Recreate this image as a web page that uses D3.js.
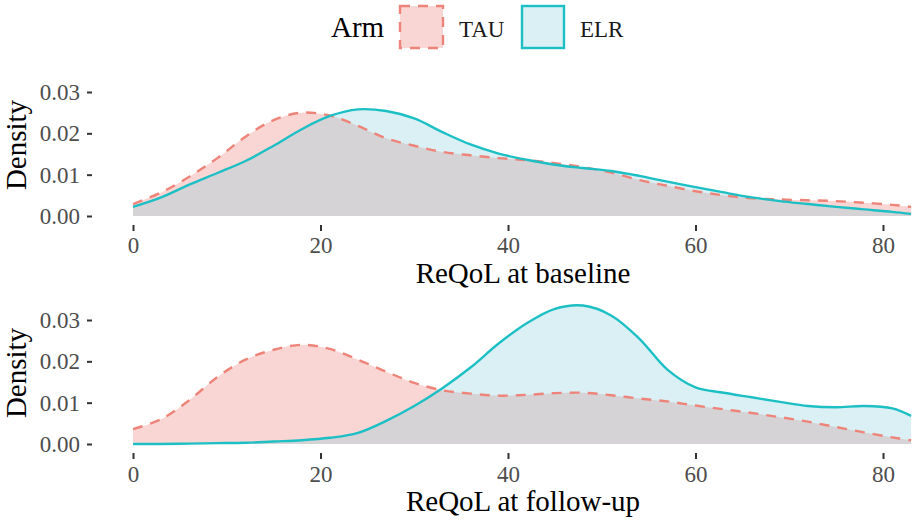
<!DOCTYPE html>
<html>
<head>
<meta charset="utf-8">
<script src="https://cdn.jsdelivr.net/npm/d3@7"></script>
<style>
  body { margin: 0; background: #fff; }
  text { font-family: "Liberation Serif", "Times New Roman", serif; }
</style>
</head>
<body>
<div id="chart"></div>
<script>
var reqolGrid = [0, 3, 6, 9, 12, 15, 18, 21, 24, 27, 30, 33, 36, 39, 42, 45, 48, 51, 54, 57, 60, 63, 66, 69, 72, 75, 78, 81, 83];

var tauBaseline = [0.0029, 0.0057, 0.0095, 0.0140, 0.0192, 0.0232, 0.0250, 0.0243, 0.0218, 0.0188, 0.0170, 0.0155, 0.0147, 0.0140, 0.0135, 0.0128, 0.0118, 0.0105, 0.0087, 0.0073, 0.0060, 0.0050, 0.0043, 0.0040, 0.0038, 0.0036, 0.0032, 0.0027, 0.0022];
var elrBaseline = [0.0022, 0.0045, 0.0076, 0.0104, 0.0133, 0.0170, 0.0210, 0.0242, 0.0258, 0.0254, 0.0236, 0.0203, 0.0173, 0.0151, 0.0136, 0.0124, 0.0116, 0.0109, 0.0097, 0.0083, 0.0070, 0.0057, 0.0045, 0.0036, 0.0029, 0.0022, 0.0016, 0.0010, 0.0005];

var tauFollowUp = [0.0036, 0.0060, 0.0106, 0.0162, 0.0204, 0.0228, 0.0240, 0.0230, 0.0204, 0.0175, 0.0148, 0.0130, 0.0122, 0.0117, 0.0119, 0.0123, 0.0124, 0.0118, 0.0110, 0.0103, 0.0093, 0.0084, 0.0075, 0.0065, 0.0054, 0.0041, 0.0028, 0.0016, 0.0009];
var elrFollowUp = [0.0000, 0.0000, 0.0001, 0.0002, 0.0003, 0.0006, 0.0009, 0.0015, 0.0027, 0.0056, 0.0092, 0.0135, 0.0185, 0.0243, 0.0292, 0.0327, 0.0335, 0.0311, 0.0255, 0.0180, 0.0137, 0.0124, 0.0113, 0.0102, 0.0092, 0.0089, 0.0092, 0.0086, 0.0068];

var xTicks = [0, 20, 40, 60, 80];
var yTicks = [0, 0.01, 0.02, 0.03];
var armNames = ["TAU", "ELR"];

var width = 915, height = 523;

var svg = d3.select("#chart")
    .append("svg")
    .attr("width", width)
    .attr("height", height)
    .style("background-color", "#fff");

var x = d3.scaleLinear().domain([0, 83.2]).range([133, 913]);

var panels = [
    { id: "base", tau: tauBaseline, elr: elrBaseline, zero: 216, title: "ReQoL at baseline", titleY: 283, tickY: 20 },
    { id: "follow", tau: tauFollowUp, elr: elrFollowUp, zero: 444, title: "ReQoL at follow-up", titleY: 511, tickY: 21 }
];

panels.forEach(function (p) {
    var y = d3.scaleLinear().domain([0, 0.03]).range([p.zero, p.zero - 124]);

    var tauData = reqolGrid.map(function (v, i) { return { x: v, y: p.tau[i] }; });
    var elrData = reqolGrid.map(function (v, i) { return { x: v, y: p.elr[i] }; });

    var area = d3.area()
        .x(function (d) { return x(d.x); })
        .y0(y(0))
        .y1(function (d) { return Math.min(y(0), y(d.y)); })
        .curve(d3.curveCatmullRom.alpha(0.5));
    var line = d3.line()
        .x(function (d) { return x(d.x); })
        .y(function (d) { return y(d.y); })
        .curve(d3.curveCatmullRom.alpha(0.5));

    // clip for the overlap of both areas
    svg.append("clipPath")
        .attr("id", "clip-" + p.id)
        .append("path")
        .attr("d", area(elrData));

    svg.append("path").attr("d", area(tauData)).attr("fill", "#f9d5d3");
    svg.append("path").attr("d", area(elrData)).attr("fill", "#daf0f5");
    svg.append("path").attr("d", area(tauData)).attr("fill", "#d6d3d6")
        .attr("clip-path", "url(#clip-" + p.id + ")");

    svg.append("path")
        .attr("d", line(tauData))
        .attr("fill", "none")
        .attr("stroke", "#ee8479")
        .attr("stroke-width", 2.4)
        .attr("stroke-dasharray", "10,8");

    svg.append("path")
        .attr("d", line(elrData))
        .attr("fill", "none")
        .attr("stroke", "#1cbfc4")
        .attr("stroke-width", 2.4);

    // Y axis
    var gy = svg.append("g")
        .attr("transform", "translate(92,0)")
        .call(d3.axisLeft(y).tickValues(yTicks).tickFormat(d3.format(".2f")).tickSize(5).tickPadding(7));
    gy.select(".domain").remove();
    gy.selectAll("line").attr("stroke", "#333").attr("stroke-width", 2);
    gy.selectAll("text")
        .style("font-family", "Liberation Serif")
        .style("font-size", "23px")
        .attr("fill", "#4d4d4d")
        .attr("dy", "0.33em");

    // X axis
    var gx = svg.append("g")
        .attr("transform", "translate(0," + (p.zero + 9) + ")")
        .call(d3.axisBottom(x).tickValues(xTicks).tickSize(6).tickPadding(4));
    gx.select(".domain").remove();
    gx.selectAll("line").attr("stroke", "#333").attr("stroke-width", 2);
    gx.selectAll("text")
        .style("font-family", "Liberation Serif")
        .style("font-size", "23px")
        .attr("fill", "#4d4d4d")
        .attr("y", p.tickY)
        .attr("dy", "0.33em");

    svg.append("text")
        .attr("x", x(41.6))
        .attr("y", p.titleY)
        .attr("text-anchor", "middle")
        .style("font-size", "29px")
        .attr("fill", "#000")
        .text(p.title);

    svg.append("text")
        .attr("transform", "translate(26," + (p.zero - 71) + ") rotate(-90)")
        .attr("text-anchor", "middle")
        .style("font-size", "29px")
        .attr("fill", "#000")
        .text("Density");
});

// legend
svg.append("text")
    .attr("x", 331)
    .attr("y", 37)
    .style("font-size", "29px")
    .text("Arm");

svg.append("rect")
    .attr("x", 400).attr("y", 6).attr("width", 43).attr("height", 42)
    .attr("fill", "#f9d5d3")
    .attr("stroke", "#ee8479")
    .attr("stroke-width", 2.4)
    .attr("stroke-dasharray", "10,8");
svg.append("text")
    .attr("x", 459).attr("y", 37)
    .style("font-size", "23px")
    .attr("fill", "#1a1a1a")
    .text(armNames[0]);

svg.append("rect")
    .attr("x", 522).attr("y", 6).attr("width", 42).attr("height", 42)
    .attr("fill", "#daf0f5")
    .attr("stroke", "#1cbfc4")
    .attr("stroke-width", 2.4);
svg.append("text")
    .attr("x", 580).attr("y", 37)
    .style("font-size", "23px")
    .attr("fill", "#1a1a1a")
    .text(armNames[1]);
</script>
</body>
</html>
